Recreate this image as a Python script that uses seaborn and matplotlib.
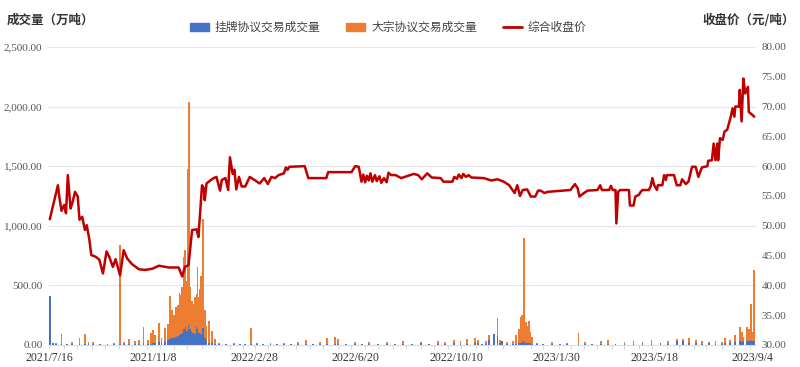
import pandas as pd
import matplotlib
matplotlib.use("Agg")
import matplotlib.pyplot as plt
import matplotlib.dates as mdates
from matplotlib.ticker import FuncFormatter, MultipleLocator
from matplotlib.patches import Patch
from matplotlib.lines import Line2D
import seaborn as sns

# 综合收盘价 (元/吨)
price_dates = [
    "2021-07-16", "2021-07-25", "2021-07-27", "2021-07-29", "2021-08-01", "2021-08-03", "2021-08-05",
    "2021-08-08", "2021-08-10", "2021-08-13", "2021-08-16", "2021-08-18", "2021-08-21", "2021-08-24",
    "2021-08-26", "2021-08-29", "2021-08-31", "2021-09-05", "2021-09-09", "2021-09-13", "2021-09-17",
    "2021-09-20", "2021-09-24", "2021-09-27", "2021-10-02", "2021-10-06", "2021-10-10", "2021-10-15",
    "2021-10-23", "2021-10-30", "2021-11-07", "2021-11-14", "2021-11-25", "2021-12-06", "2021-12-10",
    "2021-12-13", "2021-12-17", "2021-12-21", "2021-12-26", "2021-12-28", "2022-01-01", "2022-01-03",
    "2022-01-04", "2022-01-06", "2022-01-11", "2022-01-14", "2022-01-17", "2022-01-21", "2022-01-23",
    "2022-01-27", "2022-01-30", "2022-02-01", "2022-02-04", "2022-02-06", "2022-02-08", "2022-02-11",
    "2022-02-14", "2022-02-18", "2022-02-23", "2022-02-28", "2022-03-06", "2022-03-11", "2022-03-15",
    "2022-03-19", "2022-03-23", "2022-03-27", "2022-04-02", "2022-04-04", "2022-04-06", "2022-04-08",
    "2022-04-25", "2022-04-29", "2022-05-19", "2022-05-21", "2022-06-16", "2022-06-20", "2022-06-24",
    "2022-06-27", "2022-06-29", "2022-07-01", "2022-07-03", "2022-07-05", "2022-07-07", "2022-07-09",
    "2022-07-12", "2022-07-14", "2022-07-17", "2022-07-19", "2022-07-22", "2022-07-25", "2022-07-27",
    "2022-07-30", "2022-08-04", "2022-08-10", "2022-08-24", "2022-08-29", "2022-09-02", "2022-09-08",
    "2022-09-13", "2022-09-23", "2022-09-26", "2022-10-06", "2022-10-08", "2022-10-11", "2022-10-13",
    "2022-10-16", "2022-10-18", "2022-10-21", "2022-10-24", "2022-10-27", "2022-11-10", "2022-11-18",
    "2022-11-25", "2022-12-02", "2022-12-08", "2022-12-14", "2022-12-17", "2022-12-20", "2022-12-23",
    "2022-12-28", "2023-01-01", "2023-01-06", "2023-01-09", "2023-01-12", "2023-01-16", "2023-01-20",
    "2023-02-14", "2023-02-19", "2023-02-22", "2023-02-24", "2023-03-01", "2023-03-05", "2023-03-16",
    "2023-03-19", "2023-03-21", "2023-03-29", "2023-03-31", "2023-04-02", "2023-04-05", "2023-04-06",
    "2023-04-08", "2023-04-10", "2023-04-20", "2023-04-21", "2023-04-25", "2023-04-27", "2023-05-01",
    "2023-05-03", "2023-05-05", "2023-05-12", "2023-05-14", "2023-05-16", "2023-05-18", "2023-05-21",
    "2023-05-22", "2023-05-27", "2023-05-29", "2023-05-31", "2023-06-01", "2023-06-09", "2023-06-12",
    "2023-06-16", "2023-06-18", "2023-06-22", "2023-06-25", "2023-06-29", "2023-07-03", "2023-07-06",
    "2023-07-10", "2023-07-16", "2023-07-17", "2023-07-21", "2023-07-23", "2023-07-25", "2023-07-27",
    "2023-07-28", "2023-07-30", "2023-08-02", "2023-08-04", "2023-08-07", "2023-08-11", "2023-08-13",
    "2023-08-15", "2023-08-16", "2023-08-20", "2023-08-21", "2023-08-23", "2023-08-25", "2023-08-27",
    "2023-08-30", "2023-08-31", "2023-09-04", "2023-09-06",
]
price_vals = [
    51.1, 56.8, 54.4, 52.5, 53.5, 52.1, 58.5,
    52.9, 53.8, 55.7, 54.9, 51.0, 51.5, 49.3,
    50.1, 47.6, 45.1, 44.8, 44.3, 42.0, 45.7,
    44.8, 43.1, 44.4, 41.7, 45.9, 44.5, 43.6,
    42.7, 42.6, 42.8, 43.3, 43.0, 43.0, 41.5,
    43.1, 43.4, 49.3, 49.4, 48.1, 56.8, 56.3,
    54.3, 57.1, 57.7, 58.0, 58.2, 55.9, 57.7,
    58.0, 56.0, 61.5, 58.7, 59.4, 56.1, 58.2,
    56.6, 56.6, 58.2, 57.7, 57.1, 58.0, 57.0,
    58.2, 58.0, 58.5, 58.8, 59.8, 59.4, 59.9,
    60.0, 58.0, 58.0, 59.0, 59.0, 60.0, 59.9,
    57.4, 58.6, 57.3, 58.4, 57.6, 58.8, 57.4,
    58.5, 57.5, 58.3, 57.2, 58.0, 57.3, 58.9,
    58.5, 58.5, 58.0, 58.7, 58.5, 57.8, 58.8,
    58.1, 58.0, 57.4, 57.4, 58.2, 57.9, 58.6,
    58.0, 58.7, 58.2, 58.5, 58.1, 58.0, 57.6,
    57.8, 57.4, 56.8, 55.5, 56.8, 55.0, 56.0,
    56.1, 54.9, 54.9, 55.9, 55.9, 55.5, 55.7,
    56.0, 57.0, 56.3, 54.9, 55.5, 55.9, 56.0,
    56.8, 56.0, 56.0, 56.7, 56.0, 56.0, 50.4,
    55.7, 56.0, 56.0, 53.4, 53.4, 54.9, 55.2,
    55.7, 56.0, 56.0, 56.6, 58.0, 56.8, 56.0,
    56.8, 56.8, 58.5, 57.7, 58.5, 58.5, 56.8,
    56.8, 57.8, 57.0, 57.4, 59.9, 59.9, 58.2,
    59.8, 60.0, 60.9, 61.0, 63.8, 61.0, 63.8,
    61.0, 64.7, 64.4, 65.8, 66.1, 68.3, 69.7,
    68.3, 70.0, 70.0, 72.8, 67.5, 74.7, 72.2,
    73.3, 69.1, 68.6, 68.3,
]

# 成交量 (万吨): 挂牌协议 (listed) and 大宗协议 (block)
vol_dates = [
    "2021-07-16", "2021-07-20", "2021-07-23", "2021-07-29", "2021-08-04", "2021-08-10", "2021-08-18",
    "2021-08-24", "2021-08-28", "2021-09-02", "2021-09-10", "2021-09-18", "2021-09-25", "2021-10-02",
    "2021-10-06", "2021-10-12", "2021-10-19", "2021-10-23", "2021-10-28", "2021-11-02", "2021-11-05",
    "2021-11-08", "2021-11-10", "2021-11-14", "2021-11-17", "2021-11-21", "2021-11-24", "2021-11-26",
    "2021-11-29", "2021-12-01", "2021-12-03", "2021-12-05", "2021-12-07", "2021-12-09", "2021-12-10",
    "2021-12-12", "2021-12-13", "2021-12-15", "2021-12-16", "2021-12-17", "2021-12-18", "2021-12-19",
    "2021-12-21", "2021-12-22", "2021-12-24", "2021-12-26", "2021-12-27", "2021-12-29", "2021-12-30",
    "2021-12-31", "2022-01-02", "2022-01-04", "2022-01-06", "2022-01-09", "2022-01-12", "2022-01-15",
    "2022-01-20", "2022-01-28", "2022-02-05", "2022-02-12", "2022-02-18", "2022-02-24", "2022-03-03",
    "2022-03-10", "2022-03-18", "2022-03-25", "2022-04-02", "2022-04-10", "2022-04-18", "2022-04-26",
    "2022-05-04", "2022-05-12", "2022-05-20", "2022-05-29", "2022-06-01", "2022-06-10", "2022-06-20",
    "2022-06-28", "2022-07-05", "2022-07-15", "2022-07-25", "2022-08-03", "2022-08-12", "2022-08-22",
    "2022-09-01", "2022-09-10", "2022-09-20", "2022-09-28", "2022-10-08", "2022-10-15", "2022-10-22",
    "2022-10-31", "2022-11-03", "2022-11-08", "2022-11-12", "2022-11-16", "2022-11-21", "2022-11-25",
    "2022-11-28", "2022-11-30", "2022-12-06", "2022-12-12", "2022-12-16", "2022-12-19", "2022-12-21",
    "2022-12-22", "2022-12-24", "2022-12-25", "2022-12-27", "2022-12-28", "2022-12-30", "2022-12-31",
    "2023-01-02", "2023-01-08", "2023-01-15", "2023-01-25", "2023-02-02", "2023-02-10", "2023-02-23",
    "2023-03-02", "2023-03-10", "2023-03-20", "2023-03-28", "2023-04-05", "2023-04-15", "2023-04-25",
    "2023-05-05", "2023-05-15", "2023-05-25", "2023-06-02", "2023-06-12", "2023-06-19", "2023-06-26",
    "2023-07-03", "2023-07-10", "2023-07-18", "2023-07-25", "2023-08-01", "2023-08-05", "2023-08-10",
    "2023-08-16", "2023-08-21", "2023-08-23", "2023-08-25", "2023-08-29", "2023-08-31", "2023-09-02",
    "2023-09-04", "2023-09-06",
]
listed_vol = [
    410, 15, 12, 12, 10, 8, 12,
    10, 8, 6, 5, 6, 8, 10,
    6, 8, 12, 10, 15, 10, 12,
    15, 20, 25, 20, 25, 40, 50,
    55, 60, 70, 75, 80, 90, 100,
    130, 150, 120, 240, 200, 170, 130,
    110, 100, 90, 150, 130, 100, 110,
    90, 140, 60, 30, 20, 15, 10,
    8, 6, 8, 10, 6, 8, 10,
    12, 8, 10, 12, 8, 10, 12,
    10, 8, 12, 10, 8, 10, 12,
    10, 8, 12, 10, 8, 12, 10,
    14, 12, 10, 12, 15, 12, 10,
    20, 15, 12, 10, 40, 90, 75,
    20, 30, 10, 12, 10, 15, 20,
    25, 30, 25, 20, 15, 20, 15,
    10, 8, 10, 8, 10, 12, 10,
    8, 10, 12, 10, 8, 12, 10,
    12, 10, 15, 12, 30, 35, 20,
    15, 12, 15, 10, 12, 15, 20,
    25, 30, 25, 30, 35, 30, 40,
    30, 35,
]
block_vol = [
    0, 0, 5, 80, 0, 15, 45,
    80, 20, 15, 0, 5, 10, 830,
    15, 40, 20, 30, 140, 30, 90,
    110, 60, 160, 40, 115, 140, 360,
    240, 190, 250, 260, 355, 330, 390,
    610, 650, 420, 1240, 560, 1870, 360,
    260, 240, 310, 280, 520, 300, 360,
    490, 920, 230, 130, 180, 100, 40,
    10, 0, 5, 0, 0, 135, 5,
    0, 10, 0, 5, 0, 15, 30,
    0, 20, 45, 60, 40, 0, 10,
    0, 20, 0, 15, 0, 25, 0,
    10, 0, 20, 15, 30, 20, 40,
    40, 25, 0, 20, 45, 0, 155,
    20, 5, 15, 20, 75, 115, 215,
    225, 870, 235, 175, 145, 180, 95,
    60, 10, 0, 15, 0, 5, 90,
    20, 0, 25, 30, 0, 15, 20,
    10, 30, 0, 20, 20, 15, 40,
    25, 20, 10, 25, 15, 45, 20,
    60, 120, 85, 40, 120, 100, 300,
    80, 590,
]

x_tick_dates = ["2021-07-16", "2021-11-08", "2022-02-28", "2022-06-20",
                "2022-10-10", "2023-01-30", "2023-05-18", "2023-09-04"]
x_tick_labels = ["2021/7/16", "2021/11/8", "2022/2/28", "2022/6/20",
                 "2022/10/10", "2023/1/30", "2023/5/18", "2023/9/4"]

BLUE = "#4472C4"
ORANGE = "#ED7D31"
RED = "#C00000"
CJK = ["Noto Sans CJK SC", "DejaVu Sans"]
SERIF = ["Liberation Serif", "DejaVu Serif"]

sns.set_theme(style="white")
plt.rcParams["font.family"] = SERIF

price_df = pd.DataFrame({"date": pd.to_datetime(price_dates), "price": price_vals})
vol_df = pd.DataFrame({"date": pd.to_datetime(vol_dates),
                       "listed": listed_vol, "block": block_vol})

fig = plt.figure(figsize=(8, 3.67), dpi=100)
ax = fig.add_axes([0.06, 0.06, 0.885, 0.812])
ax2 = ax.twinx()

ax.bar(vol_df["date"], vol_df["listed"], width=2.1, color=BLUE, linewidth=0)
ax.bar(vol_df["date"], vol_df["block"], bottom=vol_df["listed"], width=2.1,
       color=ORANGE, linewidth=0)

sns.lineplot(data=price_df, x="date", y="price", ax=ax2, color=RED, linewidth=1.8)

ax.set_ylim(0, 2500)
ax.yaxis.set_major_locator(MultipleLocator(500))
ax.yaxis.set_major_formatter(FuncFormatter(lambda v, p: f"{v:,.2f}"))
ax2.set_ylim(30, 80)
ax2.yaxis.set_major_locator(MultipleLocator(5))
ax2.yaxis.set_major_formatter(FuncFormatter(lambda v, p: f"{v:.2f}"))

ax.set_xlim(pd.Timestamp("2021-07-14"), pd.Timestamp("2023-09-08"))
ax.set_xticks(pd.to_datetime(x_tick_dates))
ax.set_xticklabels(x_tick_labels)
ax.xaxis.set_minor_locator(mdates.DayLocator(bymonthday=[1, 15]))
ax.tick_params(axis="x", which="minor", length=3, color="#d0d0d0", width=0.6, bottom=True)
ax.tick_params(axis="x", which="major", length=0, labelsize=8.5, pad=5, colors="#333333")
ax.tick_params(axis="y", length=0, labelsize=8, colors="#555555", pad=4)
ax2.tick_params(axis="y", length=0, labelsize=8, colors="#555555", pad=4)
ax2.set_xlabel("")
ax2.set_ylabel("")
ax.set_xlabel("")

ax.yaxis.grid(True, color="#e6e6e6", linewidth=0.8)
ax.set_axisbelow(True)
for a in (ax, ax2):
    for s in a.spines.values():
        s.set_visible(False)
ax.spines["bottom"].set_visible(True)
ax.spines["bottom"].set_color("#dddddd")
ax.spines["bottom"].set_linewidth(0.8)

fig.text(0.008, 0.945, "成交量（万吨）", family=CJK, fontsize=9, fontweight="bold",
         color="#333333", ha="left", va="center")
fig.text(0.994, 0.945, "收盘价（元/吨）", family=CJK, fontsize=9, fontweight="bold",
         color="#333333", ha="right", va="center")

handles = [Patch(color=BLUE), Patch(color=ORANGE), Line2D([], [], color=RED, linewidth=2)]
labels = ["挂牌协议交易成交量", "大宗协议交易成交量", "综合收盘价"]
fig.legend(handles, labels, loc="center", bbox_to_anchor=(0.485, 0.925), ncol=3,
           frameon=False, prop={"family": CJK, "size": 8.5}, handlelength=1.6,
           handleheight=0.7, columnspacing=2.2, handletextpad=0.5, labelcolor="#444444")

fig.savefig("out.png", dpi=100)
